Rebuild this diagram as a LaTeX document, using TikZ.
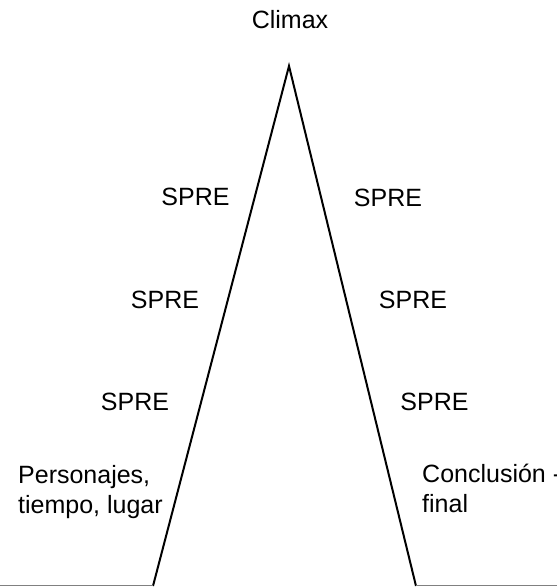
\documentclass[tikz,border=0pt]{standalone}
\usepackage{fontspec}
\setmainfont{Liberation Sans}
\usetikzlibrary{positioning}

\tikzset{
  lbl/.style={inner sep=0pt, font=\fontsize{25}{30}\selectfont},
  slope/.style={line width=2pt, line join=miter},
  ground/.style={gray, line width=1pt}
}

\begin{document}
\begin{tikzpicture}[x=1pt, y=-1pt]
        \useasboundingbox (0,0) rectangle (557,587);
        % Peak and feet of the triangle
        \coordinate (apex) at (289,66);
        \coordinate (lfoot) at (153,586);
        \coordinate (rfoot) at (416,586);
        \coordinate (lend) at (0,585.5);
        \coordinate (rend) at (557,585.5);
        % Sides
        \draw[slope] (lfoot) -- (apex) -- (rfoot);
        % Ground line
        \draw[ground] (lend) -- ([yshift=0.5pt]lfoot);
        \draw[ground] ([yshift=0.5pt]rfoot) -- (rend);
        % Top label
        \node[lbl] (climax) at (290,20) {Climax};
        % Labels left of the rise
        \node[lbl] (sl1) at (195.5,197) {SPRE};
        \node[lbl] (sl2) at (165,300) {SPRE};
        \node[lbl] (sl3) at (135,402) {SPRE};
        % Labels right of the fall
        \node[lbl] (sr1) at (388,198) {SPRE};
        \node[lbl] (sr2) at (413,300) {SPRE};
        \node[lbl] (sr3) at (434.5,402) {SPRE};
        % Start and end
        \node[lbl, anchor=base west, align=left] (start) at (18,513) {Personajes,\\tiempo, lugar};
        \node[lbl, anchor=base west, align=left] (finish) at (422,512) {Conclusión -\\final};
\end{tikzpicture}
\end{document}
